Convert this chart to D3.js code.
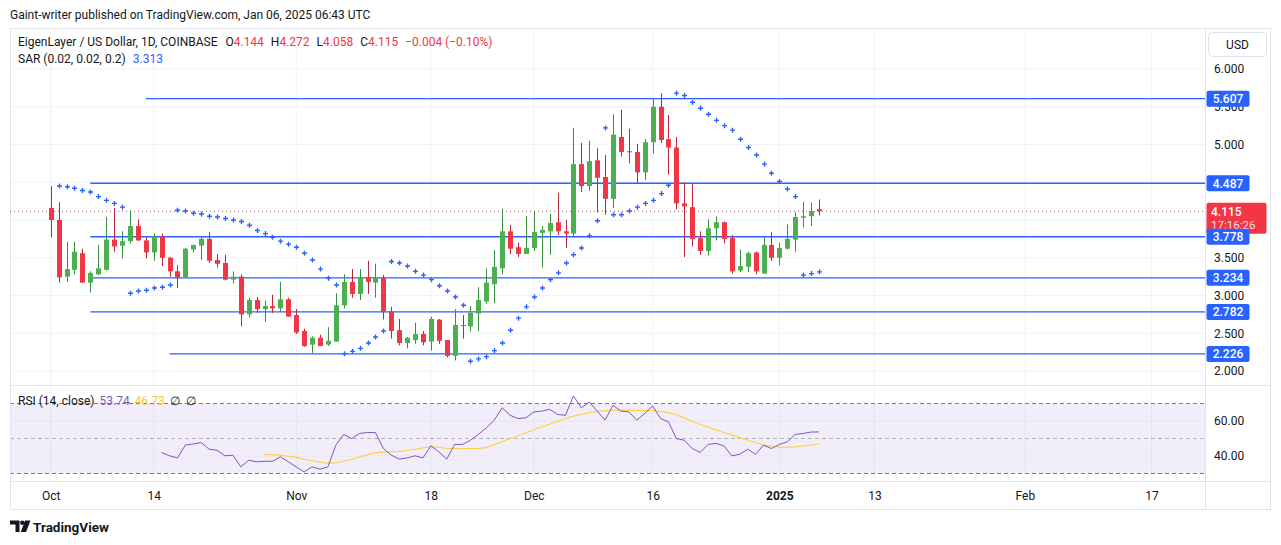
<!DOCTYPE html>
<html>
<head>
<meta charset="utf-8">
<script src="https://cdn.jsdelivr.net/npm/d3@7"></script>
<style>
  body { margin: 0; background: #fff; }
  svg text { font-family: Roboto, "Liberation Sans", sans-serif; }
</style>
</head>
<body>
<svg id="chart" width="1281" height="545"></svg>
<script>
// daily candles, 1 Oct 2024 .. 6 Jan 2025
const firstDay = "2024-10-01";
const opens = [4.16,4.00,3.25,3.34,3.56,3.17,3.28,3.34,3.74,3.66, 3.72,3.92,3.73,3.57,3.78,3.50,3.32,3.24,3.61,3.66,
  3.75,3.47,3.43,3.21,3.25,2.75,2.94,2.82,2.86,2.83, 2.95,2.74,2.53,2.35,2.44,2.35,2.39,2.87,3.18,3.02,
  3.24,3.17,3.23,2.79,2.54,2.37,2.41,2.49,2.39,2.68, 2.41,2.20,2.61,2.59,2.76,2.92,3.15,3.36,3.85,3.64,
  3.55,3.63,3.83,3.85,3.97,3.85,3.82,4.74,4.45,4.79, 4.57,4.28,5.10,4.91,4.90,4.63,5.03,5.50,5.07,4.96,
  4.22,4.17,3.76,3.59,3.89,3.97,3.76,3.33,3.38,3.57, 3.29,3.67,3.50,3.62,3.74,4.03,4.05,4.144];
const highs = [4.45,4.24,3.71,3.71,3.62,3.32,3.67,4.04,4.16,3.85, 4.13,4.01,3.77,3.82,3.82,3.51,3.40,3.63,3.67,3.79,
  3.84,3.55,3.54,3.32,3.28,2.97,2.98,2.93,3.01,3.18, 2.97,2.82,2.56,2.46,2.48,2.58,3.03,3.28,3.35,3.35,
  3.46,3.42,3.27,2.85,2.69,2.45,2.64,2.53,2.72,2.69, 2.41,2.82,2.74,2.86,3.11,3.36,3.60,4.15,3.93,3.70,
  4.05,4.12,3.92,4.08,4.36,4.00,5.22,5.02,5.05,4.95, 4.86,5.40,5.46,5.21,5.01,5.07,5.61,5.68,5.39,5.10,
  4.50,4.49,3.85,4.01,4.05,3.98,3.80,3.61,3.58,3.58, 3.77,3.84,3.70,3.94,4.10,4.24,4.23,4.272];
const lows = [3.77,3.17,3.18,3.28,3.17,3.04,3.27,3.33,3.58,3.49, 3.69,3.72,3.49,3.46,3.39,3.25,3.10,3.23,3.57,3.47,
  3.43,3.37,3.20,3.16,2.59,2.71,2.77,2.65,2.77,2.78, 2.72,2.49,2.32,2.24,2.33,2.33,2.39,2.83,2.97,2.94,
  3.02,2.97,2.68,2.43,2.34,2.30,2.36,2.34,2.27,2.36, 2.18,2.14,2.43,2.52,2.53,2.89,2.90,3.28,3.55,3.51,
  3.55,3.59,3.37,3.54,3.80,3.63,3.79,4.37,4.39,4.10, 4.07,4.16,4.84,4.75,4.49,4.53,4.88,5.02,4.60,4.14,
  3.51,3.65,3.54,3.53,3.73,3.69,3.29,3.31,3.31,3.28, 3.29,3.46,3.40,3.61,3.58,3.90,3.92,4.058];
const closes = [4.00,3.24,3.35,3.58,3.17,3.30,3.36,3.74,3.65,3.72, 3.92,3.73,3.57,3.78,3.50,3.32,3.24,3.62,3.67,3.75,
  3.46,3.42,3.21,3.25,2.75,2.94,2.82,2.86,2.83,2.95, 2.72,2.51,2.33,2.44,2.33,2.40,2.87,3.18,3.02,3.23,
  3.18,3.23,2.78,2.53,2.37,2.44,2.49,2.38,2.69,2.40, 2.20,2.61,2.60,2.77,2.94,3.17,3.38,3.85,3.62,3.55,
  3.63,3.84,3.87,3.96,3.85,3.82,4.74,4.45,4.78,4.56, 4.28,5.13,4.90,4.90,4.63,5.03,5.50,5.06,4.96,4.22,
  4.18,3.75,3.59,3.89,3.97,3.75,3.32,3.39,3.56,3.32, 3.67,3.50,3.63,3.75,4.04,4.05,4.119,4.115];

// parabolic SAR (0.02, 0.02, 0.2)
const sar = [null,4.45,4.44,4.42,4.39,4.37,4.31,4.26,4.22,4.17, 3.03,3.06,3.07,3.10,3.11,3.14,4.13,4.12,4.09,4.08,
  4.05,4.04,4.02,4.00,3.98,3.93,3.86,3.82,3.77,3.72, 3.68,3.64,3.56,3.47,3.35,3.23,3.14,2.23,2.26,2.30,
  2.37,2.45,2.53,3.45,3.43,3.39,3.32,3.27,3.21,3.13, 3.06,2.98,2.87,2.13,2.16,2.19,2.27,2.37,2.54,2.70,
  2.85,2.98,3.10,3.21,3.30,3.43,3.54,3.63,3.79,3.99, 5.22,4.07,4.07,4.12,4.17,4.22,4.26,4.35,4.46,5.68,
  5.65,5.56,5.48,5.40,5.32,5.25,5.19,5.07,4.96,4.86, 4.74,4.62,4.51,4.41,4.31,3.27,3.29,3.313];

// RSI(14) from candle 14, its MA from candle 27
const rsiStart = 14;
const rsi = [42.0,40.1,38.9,46.2,46.9,47.7,43.9,43.3,40.1,40.5, 33.8,37.6,36.7,37.0,37.0,39.5,36.7,33.8,30.9,33.8,
  32.5,33.8,46.2,52.3,50.0,52.9,53.4,53.4,44.3,40.5, 38.2,38.9,40.1,38.9,45.8,42.4,38.2,46.6,46.6,49.0,
  52.3,56.1,60.5,67.5,63.3,61.4,61.8,65.2,65.6,66.7, 63.7,63.3,74.3,67.5,70.9,65.6,60.5,69.0,65.6,65.2,
  60.5,64.3,68.6,61.4,59.5,50.0,49.0,44.3,42.0,46.6, 47.2,45.8,40.1,41.0,43.9,41.0,46.2,44.3,46.6,48.1,
  52.3,52.9,53.7,53.74];
const rsiMaStart = 27;
const rsiMa = [40.9,40.8,40.5,39.8,39.2,38.1,37.3,36.6,35.8,36.2, 37.0,38.1,39.5,40.7,41.9,42.2,42.4,42.6,43.2,43.8,
  44.6,45.3,45.0,44.4,44.3,44.2,44.3,44.4,44.8,46.5, 48.2,49.9,51.6,53.3,55.0,56.6,58.2,59.8,61.4,62.8,
  63.8,64.8,65.5,65.9,66.2,66.2,66.2,66.1,66.0,66.0, 65.4,64.8,63.5,61.8,59.8,58.0,56.5,54.9,53.4,51.9,
  50.5,49.0,47.7,46.4,45.7,45.1,44.9,45.2,45.7,46.2, 46.73];

// drawn horizontal levels
const levels = [5.607, 4.487, 3.778, 3.234, 2.782, 2.226];
const levelStarts = ["2024-10-13", "2024-10-06", "2024-10-06", "2024-10-06", "2024-10-06", "2024-10-16"];

const priceGrid = [2, 2.5, 3, 3.5, 4, 4.5, 5, 5.5, 6];
const priceTicks = [2, 2.5, 3, 3.5, 5, 5.5, 6];   // 4.000 / 4.500 sit under the axis labels
const rsiTicks = [40, 60];
const timeTicks = ["2024-10-01","2024-10-14","2024-11-01","2024-11-18","2024-12-01","2024-12-16","2025-01-01","2025-01-13","2025-02-01","2025-02-17"];
const timeLabels = ["Oct","14","Nov","18","Dec","16","2025","13","Feb","17"];

const green = "#4caf50", red = "#f23645", blue = "#2962ff", ink = "#131722";
const gridCol = "#f0f3fa", borderCol = "#e0e3eb";

const svg = d3.select("#chart");
const parse = d3.utcParse("%Y-%m-%d");
const day0 = parse(firstDay);
const dates = opens.map((_, i) => d3.utcDay.offset(day0, i));
const candles = dates.map((d, i) => ({d, o: opens[i], h: highs[i], l: lows[i], c: closes[i], s: sar[i]}));

const plotL = 10, plotR = 1205, axisR = 1271, paneTop = 28, sep = 385, rsiBot = 481, paneBot = 510;

const x = d3.scaleUtc().domain([parse("2024-10-01"), parse("2025-02-17")]).range([50.7, 1151.6]);
const y = d3.scaleLinear().domain([2, 6]).range([371, 69]);
const yr = d3.scaleLinear().domain([30, 70]).range([473.5, 403.5]);

svg.append("rect").attr("width", 1281).attr("height", 545).attr("fill", "#fff");

const defs = svg.append("defs");
defs.append("clipPath").attr("id", "mainClip").append("rect")
  .attr("x", plotL).attr("y", paneTop).attr("width", plotR - plotL).attr("height", sep - paneTop);
defs.append("clipPath").attr("id", "rsiClip").append("rect")
  .attr("x", plotL).attr("y", sep).attr("width", plotR - plotL).attr("height", rsiBot - sep);

// grid
const grid = svg.append("g");
grid.selectAll("line.v").data(timeTicks).join("line")
  .attr("x1", d => x(parse(d))).attr("x2", d => x(parse(d)))
  .attr("y1", paneTop).attr("y2", rsiBot).attr("stroke", gridCol);
grid.selectAll("line.h").data(priceGrid).join("line")
  .attr("x1", plotL).attr("x2", plotR).attr("y1", d => y(d)).attr("y2", d => y(d)).attr("stroke", gridCol);

// RSI pane background + guides
const rp = svg.append("g").attr("clip-path", "url(#rsiClip)");
rp.append("rect").attr("x", plotL).attr("width", plotR - plotL)
  .attr("y", yr(70)).attr("height", yr(30) - yr(70)).attr("fill", "rgba(126,87,194,0.1)");
rp.selectAll("line.g").data(rsiTicks).join("line")
  .attr("x1", plotL).attr("x2", plotR).attr("y1", d => yr(d)).attr("y2", d => yr(d)).attr("stroke", "#e7e3f0");
rp.selectAll("line.band").data([70, 50, 30]).join("line")
  .attr("x1", plotL).attr("x2", plotR).attr("y1", d => yr(d)).attr("y2", d => yr(d))
  .attr("stroke", d => d === 50 ? "rgba(120,123,134,0.5)" : "#787b86")
  .attr("stroke-dasharray", "4,3");

const rsiPts = rsi.map((v, i) => [dates[rsiStart + i], v]);
const maPts = rsiMa.map((v, i) => [dates[rsiMaStart + i], v]);
const rl = d3.line().x(d => x(d[0])).y(d => yr(d[1]));
rp.append("path").attr("d", rl(maPts)).attr("fill", "none").attr("stroke", "#fbd34d").attr("stroke-width", 1.2);
rp.append("path").attr("d", rl(rsiPts)).attr("fill", "none").attr("stroke", "#7e57c2").attr("stroke-width", 1);

// frame
svg.append("rect").attr("x", plotL + 0.5).attr("y", paneTop + 0.5).attr("width", axisR - plotL - 1)
  .attr("height", paneBot - paneTop - 1).attr("fill", "none").attr("stroke", borderCol);
svg.append("line").attr("x1", plotL).attr("x2", axisR).attr("y1", sep + 0.5).attr("y2", sep + 0.5).attr("stroke", borderCol);
svg.append("line").attr("x1", plotL).attr("x2", axisR).attr("y1", rsiBot + 0.5).attr("y2", rsiBot + 0.5).attr("stroke", borderCol);
svg.append("line").attr("x1", plotR + 0.5).attr("x2", plotR + 0.5).attr("y1", paneTop).attr("y2", paneBot).attr("stroke", borderCol);

// main pane
const mp = svg.append("g").attr("clip-path", "url(#mainClip)");

mp.append("line").attr("x1", plotL).attr("x2", plotR)
  .attr("y1", y(closes[closes.length - 1])).attr("y2", y(closes[closes.length - 1]))
  .attr("stroke", red).attr("stroke-dasharray", "1,3");

mp.selectAll("line.lvl").data(levels).join("line")
  .attr("x1", (d, i) => x(parse(levelStarts[i]))).attr("x2", plotR)
  .attr("y1", d => y(d)).attr("y2", d => y(d))
  .attr("stroke", blue).attr("stroke-width", 1.3);

const bw = 5;
const cg = mp.selectAll("g.c").data(candles).join("g");
cg.append("line")
  .attr("x1", d => Math.round(x(d.d)) + 0.5).attr("x2", d => Math.round(x(d.d)) + 0.5)
  .attr("y1", d => y(d.h)).attr("y2", d => y(d.l))
  .attr("stroke", d => d.c >= d.o ? "#3a8f3e" : "#b7283a");
cg.append("rect")
  .attr("x", d => Math.round(x(d.d)) + 0.5 - bw / 2)
  .attr("width", bw)
  .attr("y", d => y(Math.max(d.o, d.c)))
  .attr("height", d => Math.max(1, Math.abs(y(d.o) - y(d.c))))
  .attr("fill", d => d.c >= d.o ? green : red);

mp.selectAll("path.sar").data(candles.filter(d => d.s != null)).join("path")
  .attr("transform", d => `translate(${Math.round(x(d.d)) + 0.5},${y(d.s)})`)
  .attr("d", "M-2.5,0H2.5M0,-2.5V2.5")
  .attr("stroke", blue).attr("stroke-width", 1.4);

// price axis
const pAxis = svg.append("g").attr("transform", `translate(${plotR},0)`)
  .call(d3.axisRight(y).tickValues(priceTicks).tickFormat(d3.format(".3f")).tickSize(0).tickPadding(9));
pAxis.select(".domain").remove();
pAxis.selectAll("text").attr("font-size", 12).attr("fill", ink);

const rAxis = svg.append("g").attr("transform", `translate(${plotR},0)`)
  .call(d3.axisRight(yr).tickValues(rsiTicks).tickFormat(d3.format(".2f")).tickSize(0).tickPadding(9));
rAxis.select(".domain").remove();
rAxis.selectAll("text").attr("font-size", 12).attr("fill", ink);

// time axis
const tAxis = svg.append("g").attr("transform", `translate(0,${rsiBot})`)
  .call(d3.axisBottom(x).tickValues(timeTicks.map(parse))
    .tickFormat((d, i) => timeLabels[i]).tickSize(0).tickPadding(10));
tAxis.select(".domain").remove();
tAxis.selectAll("text").attr("font-size", 12).attr("fill", ink)
  .attr("font-weight", (d, i) => timeLabels[i] === "2025" ? "bold" : null);

// labels on the price axis
const lab = svg.append("g");
const last = closes[closes.length - 1];
lab.append("rect").attr("x", plotR + 1.5).attr("y", y(last) - 8.5).attr("width", 60).attr("height", 31)
  .attr("rx", 2).attr("fill", red);
lab.append("text").attr("x", plotR + 6).attr("y", y(last) + 4.5)
  .attr("font-size", 12).attr("font-weight", 500).attr("fill", "#fff").text(d3.format(".3f")(last));
lab.append("text").attr("x", plotR + 6).attr("y", y(last) + 17.5)
  .attr("font-size", 11.5).attr("fill", "#fff").attr("fill-opacity", 0.85).text("17:16:26");
levels.forEach(v => {
  lab.append("rect").attr("x", plotR + 1.5).attr("y", y(v) - 8).attr("width", 43).attr("height", 16)
    .attr("rx", 2).attr("fill", blue);
  lab.append("text").attr("x", plotR + 23).attr("y", y(v) + 4.5).attr("text-anchor", "middle")
    .attr("font-size", 12).attr("font-weight", 500).attr("fill", "#fff").text(d3.format(".3f")(v));
});

// USD box
svg.append("rect").attr("x", 1208.5).attr("y", 32.5).attr("width", 58).attr("height", 24).attr("rx", 4)
  .attr("fill", "#fff").attr("stroke", borderCol);
svg.append("text").attr("x", 1237.5).attr("y", 49).attr("text-anchor", "middle")
  .attr("font-size", 12).attr("fill", ink).text("USD");

// header + legends
svg.append("text").attr("x", 10).attr("y", 19).attr("font-size", 12).attr("fill", ink)
  .text("Gaint-writer published on TradingView.com, Jan 06, 2025 06:43 UTC");

const n = closes.length - 1;
const chg = closes[n] - closes[n - 1];
const pct = chg / closes[n - 1] * 100;
const signed = (v, f) => (v < 0 ? "\u2212" : "+") + d3.format(f)(Math.abs(v));
const leg = svg.append("text").attr("x", 18).attr("y", 46).attr("font-size", 12).attr("fill", ink);
[
  ["EigenLayer / US Dollar, 1D, COINBASE", ink, 0],
  ["O", ink, 8], [d3.format(".3f")(opens[n]), red, 0],
  ["H", ink, 7], [d3.format(".3f")(highs[n]), red, 0],
  ["L", ink, 7], [d3.format(".3f")(lows[n]), red, 0],
  ["C", ink, 7], [d3.format(".3f")(closes[n]), red, 0],
  [signed(chg, ".3f") + " (" + signed(pct, ".2f") + "%)", red, 7]
].forEach(([t, c, dx]) => leg.append("tspan").attr("dx", dx).attr("fill", c).text(t));

const leg2 = svg.append("text").attr("x", 18).attr("y", 63).attr("font-size", 12).attr("fill", ink);
leg2.append("tspan").text("SAR (0.02, 0.02, 0.2)");
leg2.append("tspan").attr("dx", 7).attr("fill", blue).text(d3.format(".3f")(sar[n]));

const leg3 = svg.append("text").attr("x", 18).attr("y", 405).attr("font-size", 12).attr("fill", ink);
leg3.append("tspan").text("RSI (14, close)");
leg3.append("tspan").attr("dx", 5).attr("fill", "#7e57c2").text(d3.format(".2f")(rsi[rsi.length - 1]));
leg3.append("tspan").attr("dx", 5).attr("fill", "#f5c542").text(d3.format(".2f")(rsiMa[rsiMa.length - 1]));
leg3.append("tspan").attr("dx", 5).text("\u2205");
leg3.append("tspan").attr("dx", 6).text("\u2205");

// footer logo
const logo = svg.append("g").attr("fill", ink);
logo.append("path").attr("d", "M10,520.5H19.5V532H15.5V524.5H10Z");
logo.append("circle").attr("cx", 22.3).attr("cy", 522.8).attr("r", 2.2);
logo.append("path").attr("d", "M25,520.5H30.5L26,532H20.8Z");
svg.append("text").attr("x", 33).attr("y", 532).attr("font-size", 13.5).attr("font-weight", "bold")
  .attr("fill", ink).text("TradingView");
</script>
</body>
</html>
